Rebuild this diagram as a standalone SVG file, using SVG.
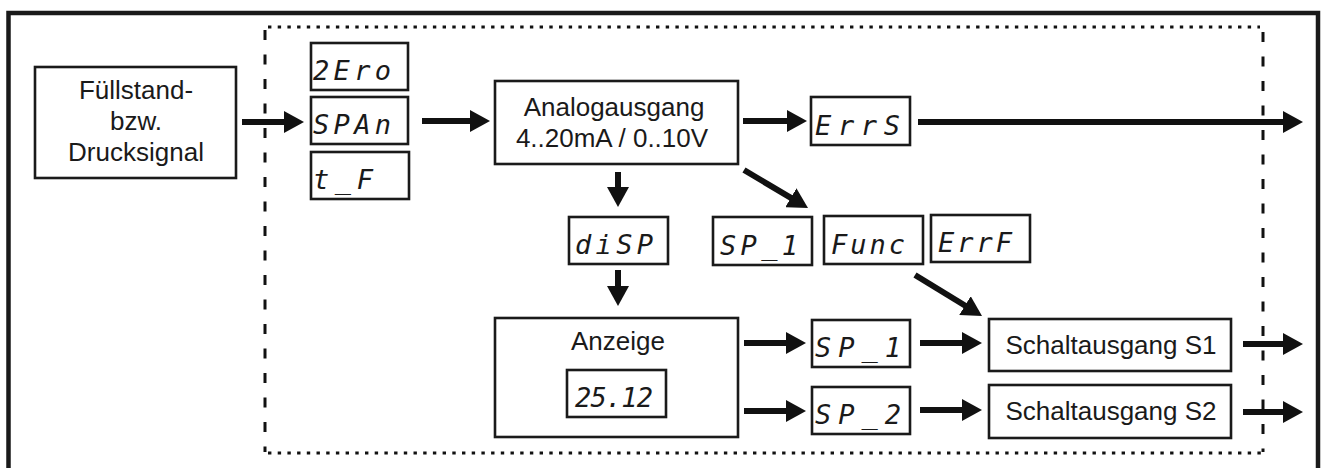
<svg xmlns="http://www.w3.org/2000/svg" width="1324" height="468" viewBox="0 0 1324 468">
<defs>
<marker id="ah" markerUnits="userSpaceOnUse" viewBox="0 0 20 22" markerWidth="20" markerHeight="22" refX="10" refY="11" orient="auto"><path d="M0,0 L20,11 L0,22 z" fill="#111"/></marker>
<style>
.box{fill:#fff;stroke:#1a1a1a;stroke-width:2.6}
.lbl{font-family:"Liberation Sans",Arial,sans-serif;font-size:26px;fill:#1a1a1a;text-anchor:middle}
.seg{font-family:"DejaVu Sans Mono",monospace;font-style:oblique;font-size:27px;fill:#1a1a1a}
.arr{stroke:#111;stroke-width:6;fill:none;marker-end:url(#ah)}
.dot{stroke:#111;stroke-width:3.2;stroke-dasharray:3.4 6.3;fill:none}
.dash{stroke:#111;stroke-width:3;stroke-dasharray:10 14.5;fill:none}
</style>
</defs>
<rect width="1324" height="468" fill="#fff"/>
<path d="M8.5,470 V13 H1318 V470" fill="none" stroke="#1a1a1a" stroke-width="4.5"/>
<g id="boundary">
<line class="dot" x1="268" y1="27" x2="1260" y2="27"/>
<line class="dot" x1="268" y1="453" x2="1262" y2="453"/>
<line class="dash" x1="265" y1="30" x2="265" y2="452"/>
<line class="dash" x1="1263" y1="32" x2="1263" y2="452"/>
</g>
<g id="n-signal"><rect class="box" x="35" y="67" width="201" height="111"/>
<text class="lbl" x="136" y="99">Füllstand-</text><text class="lbl" x="136" y="130">bzw.</text><text class="lbl" x="136" y="161">Drucksignal</text></g>
<g id="n-zero"><rect class="box" x="311" y="43" width="97" height="47"/><text class="seg" x="313" y="80" textLength="78" lengthAdjust="spacing">2Ero</text></g>
<g id="n-span"><rect class="box" x="311" y="97" width="97" height="47"/><text class="seg" x="313" y="134" textLength="78" lengthAdjust="spacing">SPAn</text></g>
<g id="n-tf"><rect class="box" x="311" y="152" width="98" height="47"/><text class="seg" x="313" y="189" textLength="60" lengthAdjust="spacing">t_F</text></g>
<g id="n-analog"><rect class="box" x="495" y="81" width="243" height="83"/>
<text class="lbl" x="614" y="116">Analogausgang</text><text class="lbl" x="612" y="147">4..20mA / 0..10V</text></g>
<g id="n-errs"><rect class="box" x="811" y="97" width="99" height="48"/><text class="seg" x="815" y="135" textLength="85" lengthAdjust="spacing">ErrS</text></g>
<g id="n-disp"><rect class="box" x="569" y="217" width="99" height="47"/><text class="seg" x="575" y="254" textLength="78" lengthAdjust="spacing">diSP</text></g>
<g id="n-sp1a"><rect class="box" x="713" y="217" width="99" height="48"/><text class="seg" x="720" y="255" textLength="78" lengthAdjust="spacing">SP_1</text></g>
<g id="n-func"><rect class="box" x="824" y="216" width="99" height="48"/><text class="seg" x="831" y="254" textLength="74" lengthAdjust="spacing">Func</text></g>
<g id="n-errf"><rect class="box" x="931" y="215" width="99" height="47"/><text class="seg" x="938" y="252" textLength="74" lengthAdjust="spacing">ErrF</text></g>
<g id="n-anzeige"><rect class="box" x="495" y="318" width="243" height="119"/>
<text class="lbl" x="618" y="350">Anzeige</text>
<rect class="box" x="567" y="370" width="99" height="47"/><text class="seg" x="575" y="407" textLength="78" lengthAdjust="spacing">25.12</text></g>
<g id="n-sp1"><rect class="box" x="812" y="320" width="98" height="47"/><text class="seg" x="815" y="357" textLength="86" lengthAdjust="spacing">SP_1</text></g>
<g id="n-sp2"><rect class="box" x="812" y="387" width="98" height="47"/><text class="seg" x="815" y="424" textLength="86" lengthAdjust="spacing">SP_2</text></g>
<g id="n-s1"><rect class="box" x="989" y="319" width="242" height="52"/><text class="lbl" x="1111" y="354">Schaltausgang S1</text></g>
<g id="n-s2"><rect class="box" x="989" y="385" width="242" height="53"/><text class="lbl" x="1111" y="420">Schaltausgang S2</text></g>
<g id="connectors">
<line class="arr" x1="242" y1="122" x2="294" y2="122"/>
<line class="arr" x1="422" y1="121" x2="480" y2="121"/>
<line class="arr" x1="743" y1="121" x2="797" y2="121"/>
<line class="arr" x1="918" y1="122" x2="1293" y2="122"/>
<line class="arr" x1="744" y1="170" x2="799.4" y2="202.9"/>
<line class="arr" x1="618" y1="172" x2="618" y2="197"/>
<line class="arr" x1="618" y1="270" x2="618" y2="296"/>
<line class="arr" x1="744" y1="343" x2="796" y2="343"/>
<line class="arr" x1="744" y1="411" x2="796" y2="411"/>
<line class="arr" x1="920" y1="343" x2="972" y2="343"/>
<line class="arr" x1="920" y1="410" x2="972" y2="410"/>
<line class="arr" x1="915" y1="275" x2="973.5" y2="310.8"/>
<line class="arr" x1="1243" y1="344" x2="1293" y2="344"/>
<line class="arr" x1="1243" y1="412" x2="1293" y2="412"/>
</g>
</svg>
